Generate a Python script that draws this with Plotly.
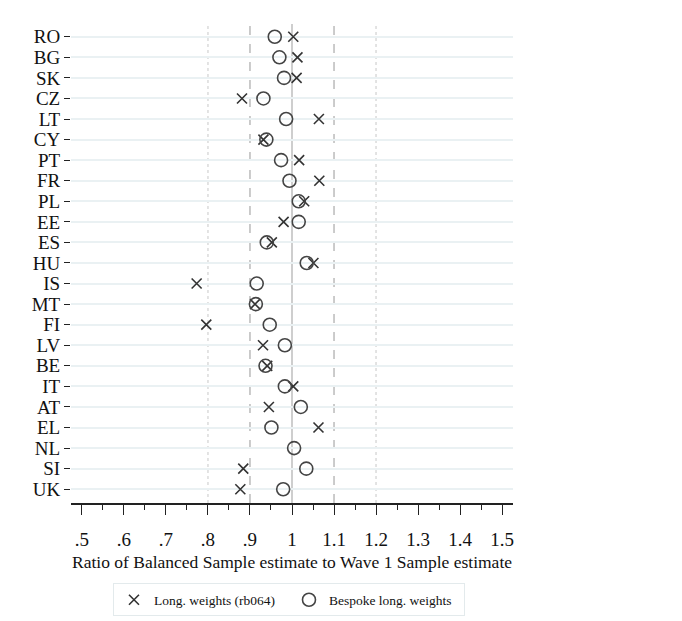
import plotly.graph_objects as go

countries = ["RO", "BG", "SK", "CZ", "LT", "CY", "PT", "FR", "PL", "EE", "ES", "HU",
             "IS", "MT", "FI", "LV", "BE", "IT", "AT", "EL", "NL", "SI", "UK"]
long_weights = [1.003, 1.013, 1.011, 0.881, 1.064, 0.932, 1.017, 1.065, 1.029, 0.980, 0.952, 1.051,
                0.773, 0.912, 0.796, 0.931, 0.941, 1.003, 0.945, 1.063, None, 0.884, 0.877]
bespoke_weights = [0.959, 0.970, 0.981, 0.932, 0.986, 0.939, 0.974, 0.994, 1.016, 1.016, 0.940, 1.035,
                   0.916, 0.914, 0.947, 0.983, 0.937, 0.983, 1.021, 0.951, 1.005, 1.034, 0.979]
x_tickvals = [0.5, 0.6, 0.7, 0.8, 0.9, 1.0, 1.1, 1.2, 1.3, 1.4, 1.5]
x_ticktext = [".5", ".6", ".7", ".8", ".9", "1", "1.1", "1.2", "1.3", "1.4", "1.5"]

FONT = "Liberation Serif, Times New Roman, serif"

fig = go.Figure()
fig.add_trace(go.Scatter(
    x=long_weights, y=countries, mode="markers", name="Long. weights (rb064)",
    marker=dict(symbol="x-thin-open", size=10, line=dict(width=1.6, color="#333333"), color="#333333"),
))
fig.add_trace(go.Scatter(
    x=bespoke_weights, y=countries, mode="markers", name="Bespoke long. weights",
    marker=dict(symbol="circle-open", size=13, line=dict(width=1.6, color="#444444"), color="#444444"),
))

# reference lines
for v, dash, col in [(0.8, "dot", "#c8c8c8"), (1.2, "dot", "#c8c8c8"),
                     (0.9, "dash", "#b0b0b0"), (1.1, "dash", "#b0b0b0"),
                     (1.0, "solid", "#b4b4b4")]:
    fig.add_shape(type="line", xref="x", yref="paper", x0=v, x1=v, y0=0, y1=1,
                  line=dict(color=col, width=1.3 if dash != "dot" else 1, dash=dash), layer="below")

fig.update_layout(
    width=682, height=621,
    margin=dict(l=63, r=177, t=16, b=118),
    paper_bgcolor="white", plot_bgcolor="white",
    font=dict(family=FONT, color="#111111"),
    showlegend=True,
    legend=dict(orientation="h", x=0.095, y=-0.168, xanchor="left", yanchor="top",
                font=dict(family=FONT, size=13.5, color="#111111"),
                bordercolor="#e3eaec", borderwidth=1, entrywidth=130, itemwidth=30),
    xaxis=dict(range=[0.474, 1.526], tickvals=x_tickvals, ticktext=x_ticktext, automargin=False,
               ticks="outside", ticklen=10, tickwidth=1.3, tickcolor="#222222",
               ticklabelstandoff=8,
               minor=dict(dtick=0.05, ticks="outside", ticklen=5, tickwidth=1, tickcolor="#222222",
                          showgrid=False),
               showline=True, linecolor="#222222", linewidth=1.6,
               showgrid=False, zeroline=False,
               tickfont=dict(family=FONT, size=19),
               title=dict(text="Ratio of Balanced Sample estimate to Wave 1 Sample estimate",
                          font=dict(family=FONT, size=17.5), standoff=7)),
    yaxis=dict(type="category", categoryorder="array", categoryarray=countries, automargin=False,
               tickmode="array", tickvals=countries, ticktext=countries,
               range=[22.67, -0.62], ticks="outside", ticklen=6, tickwidth=1.3, tickcolor="#222222",
               showline=False, showgrid=True, gridcolor="#eaf1f3", gridwidth=2,
               zeroline=False, tickfont=dict(family=FONT, size=19)),
)

fig.write_html("out.html")
